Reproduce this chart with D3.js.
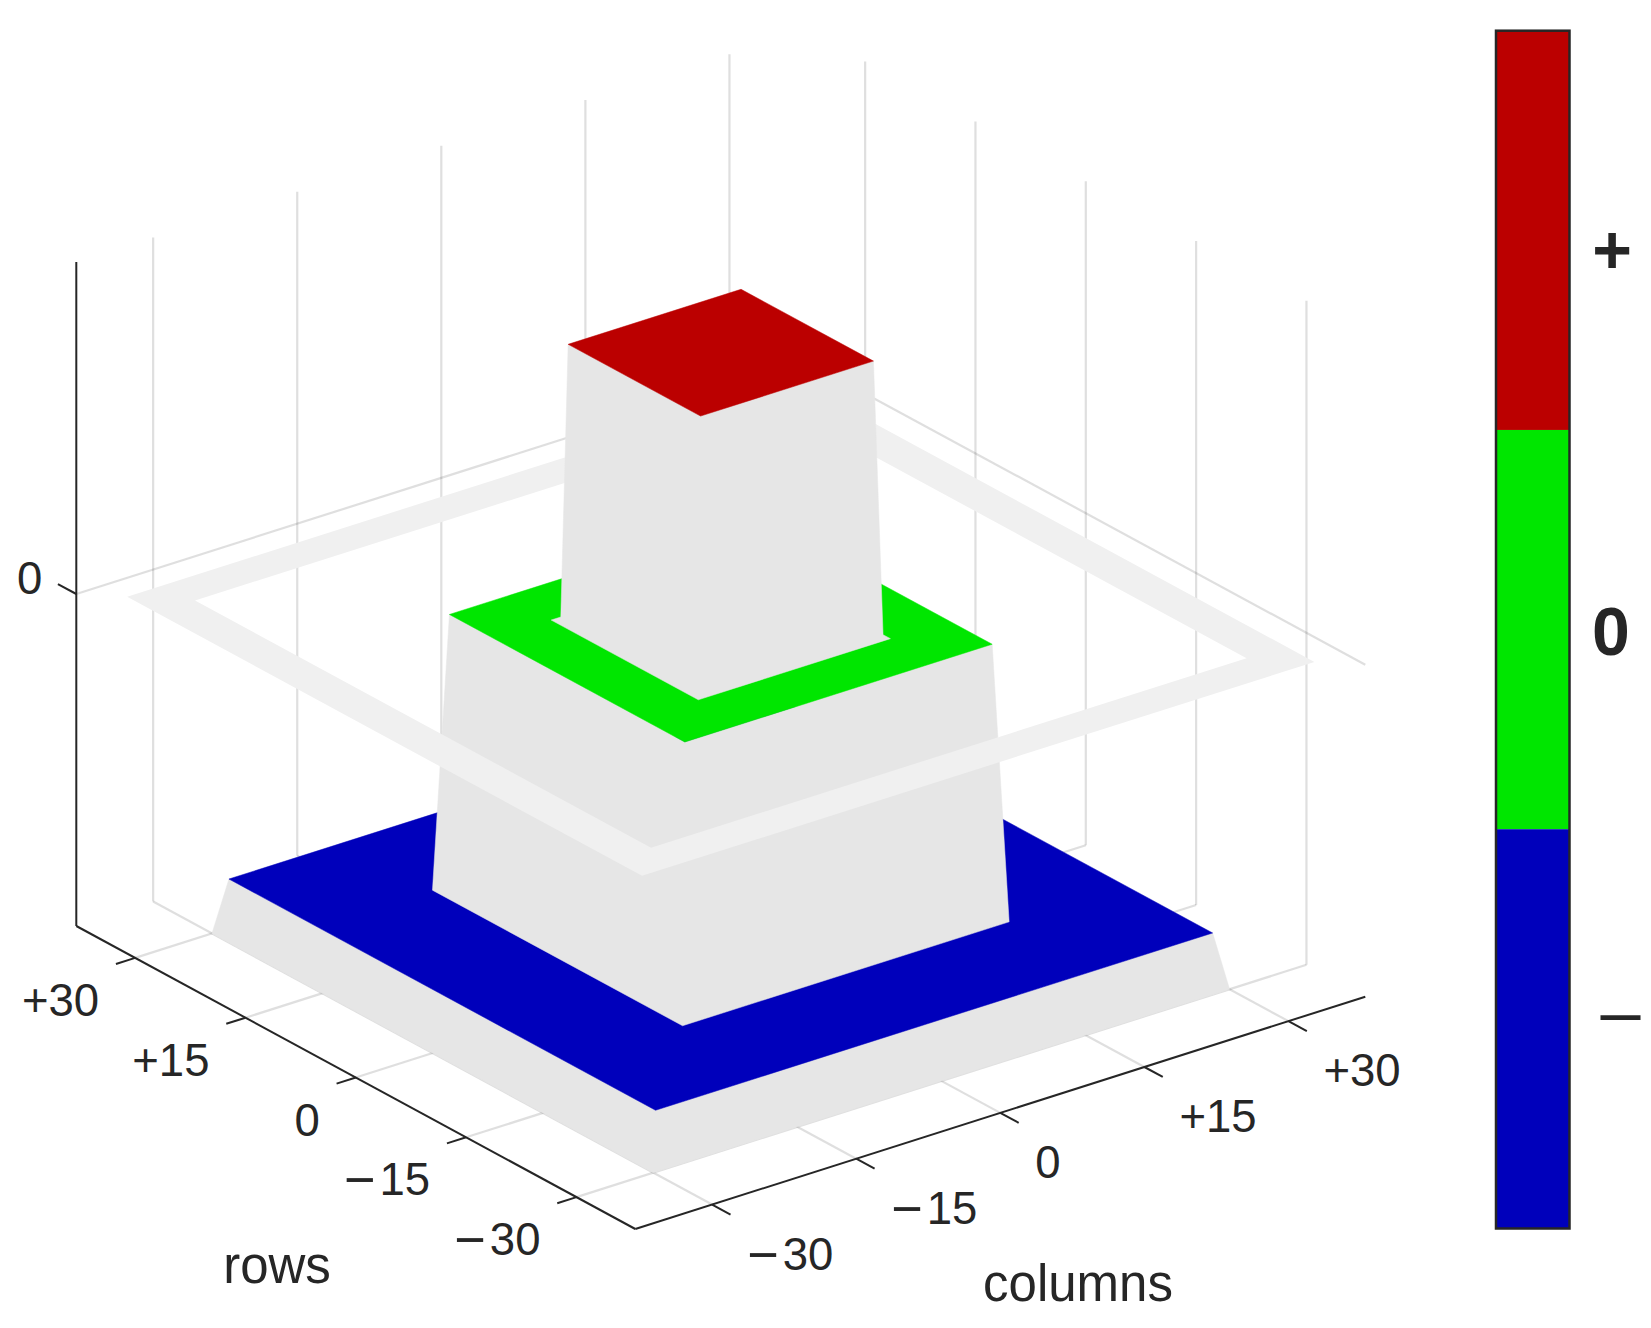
<!DOCTYPE html>
<html><head><meta charset="utf-8">
<script src="https://cdn.jsdelivr.net/npm/d3@7/dist/d3.min.js"></script>
<style>html,body{margin:0;padding:0;background:#fff}svg{display:block}text{font-family:"Liberation Sans",Arial,sans-serif;fill:#262626}</style>
</head><body><svg id="c" width="1651" height="1328"></svg>
<script>
// ---- data ----
const rowTicks = [30, 15, 0, -15, -30];
const colTicks = [-30, -15, 0, 15, 30];
const rowTickLabels = ["+30", "+15", "0", "−15", "−30"];
const colTickLabels = ["−30", "−15", "0", "+15", "+30"];
const zTicks = [0];
const zTickLabels = ["0"];
const axisLimit = 38;
const zLimit = 1.2;
// plateaus of the stepped surface, lowest first
const plateauLevel = [-1, 0, 1];
const plateauHalfWidth = [29, 16, 9];
const plateauFootHalfWidth = [30, 17, 10];
const plateauFootLevel = [-1.2, -1, 0];
const plateauCornerCut = [false, false, true];
const plateauColor = ["#0000bb", "#00e600", "#bb0000"];
// reference ring at level zero
const ringLevel = 0;
const ringHalfWidths = [31, 35];
// colour bar
const barLevels = [1, 0, -1];
const barColors = ["#bb0000", "#00e600", "#0000bb"];
const barLabels = ["+", "0", "–"];

// ---- oblique projection built from linear scales ----
const cx = 720.8, cy = 961.35;
const colX = d3.scaleLinear([-axisLimit, axisLimit], [cx - 365, cx + 365]);
const rowX = d3.scaleLinear([-axisLimit, axisLimit], [279.5, -279.5]);
const colY = d3.scaleLinear([-axisLimit, axisLimit], [116.15, -116.15]);
const rowY = d3.scaleLinear([-axisLimit, axisLimit], [151.5, -151.5]);
const zY = d3.scaleLinear([-zLimit, zLimit], [cy, cy - 664]);
const P = (r, c, z) => [colX(c) + rowX(r), zY(z) + colY(c) + rowY(r)];
const line = d3.line();
const svg = d3.select("#c");
const L = axisLimit, zMin = -zLimit, zMax = zLimit;

function seg(g, a, b) { g.append("path").attr("d", line([a, b])); }
function poly(g, pts, fill) {
  g.append("path").attr("d", line(pts) + "Z").attr("fill", fill).attr("stroke", fill).attr("stroke-width", 0.5);
}
// a negative label has a wider minus sign
function tickText(g, s) {
  if (s[0] === "−") {
    g.append("tspan").attr("font-size", 54).attr("dy", 3).text("−");
    g.append("tspan").attr("dx", 4).attr("dy", -3).text(s.slice(1));
  } else g.text(s);
}

// grid
const grid = svg.append("g").attr("fill", "none").attr("stroke", "#262626").attr("stroke-opacity", 0.15).attr("stroke-width", 2.2);
rowTicks.forEach(r => {
  seg(grid, P(r, -L, zMin), P(r, L, zMin));
  seg(grid, P(r, L, zMin), P(r, L, zMax));
});
colTicks.forEach(c => {
  seg(grid, P(-L, c, zMin), P(L, c, zMin));
  seg(grid, P(L, c, zMin), P(L, c, zMax));
});
zTicks.forEach(z => {
  seg(grid, P(L, -L, z), P(L, L, z));
  seg(grid, P(L, L, z), P(-L, L, z));
});

// axes
const axes = svg.append("g").attr("fill", "none").attr("stroke", "#262626").attr("stroke-width", 2);
seg(axes, P(L, -L, zMin), P(L, -L, zMax));
seg(axes, P(L, -L, zMin), P(-L, -L, zMin));
seg(axes, P(-L, -L, zMin), P(-L, L, zMin));
rowTicks.forEach(r => seg(axes, P(r, -L, zMin), P(r, -L - 2, zMin)));
colTicks.forEach(c => seg(axes, P(-L, c, zMin), P(-L - 2.5, c, zMin)));
zTicks.forEach(z => seg(axes, P(L, -L, z), P(L + 2.5, -L, z)));

// tick labels
const tickFont = 45.5;
const labels = svg.append("g").attr("font-size", tickFont);
rowTicks.forEach((r, i) => {
  const p = P(r, -L, zMin);
  tickText(labels.append("text").attr("x", p[0] - 36).attr("y", p[1] + 58).attr("text-anchor", "end"), rowTickLabels[i]);
});
colTicks.forEach((c, i) => {
  const p = P(-L, c, zMin);
  tickText(labels.append("text").attr("x", p[0] + 35).attr("y", p[1] + 65).attr("text-anchor", "start"), colTickLabels[i]);
});
zTicks.forEach((z, i) => {
  const p = P(L, -L, z);
  labels.append("text").attr("x", p[0] - 34).attr("y", p[1] + 0).attr("text-anchor", "end").text(zTickLabels[i]);
});
labels.append("text").attr("x", 277).attr("y", 1283).attr("font-size", 51).attr("text-anchor", "middle").text("rows");
labels.append("text").attr("x", 1078).attr("y", 1301).attr("font-size", 51).attr("text-anchor", "middle").text("columns");

// stepped surface
const surf = svg.append("g");
const ramp = "#e6e6e6";
function drawPlateau(i) {
  const a = plateauHalfWidth[i], b = plateauFootHalfWidth[i], t = plateauLevel[i], f = plateauFootLevel[i];
  const outline = plateauCornerCut[i]
    ? [P(a, -a, t), P(b, -a, f), P(b, -b, f), P(-b, -b, f), P(-b, b, f), P(-a, b, f), P(-a, a, t), P(-a, -a, t)]
    : [P(a, -a, t), P(b, -b, f), P(-b, -b, f), P(-b, b, f), P(-a, a, t), P(-a, -a, t)];
  poly(surf, outline, ramp);
  poly(surf, [P(a, -a, t), P(-a, -a, t), P(-a, a, t), P(a, a, t)], plateauColor[i]);
}
drawPlateau(0);
drawPlateau(1);
// ring
const ringPath = h => line([P(h, -h, ringLevel), P(-h, -h, ringLevel), P(-h, h, ringLevel), P(h, h, ringLevel)]) + "Z";
surf.append("path").attr("d", ringPath(ringHalfWidths[1]) + ringPath(ringHalfWidths[0]))
  .attr("fill", "#f0f0f0").attr("fill-rule", "evenodd");
drawPlateau(2);

// colour bar
const barY = d3.scaleBand().domain(barLevels).range([30.7, 1228.5]);
const barX0 = 1496, barW = 73.5;
const bar = svg.append("g");
barLevels.forEach((v, i) => {
  bar.append("rect").attr("x", barX0).attr("y", barY(v)).attr("width", barW).attr("height", barY.bandwidth()).attr("fill", barColors[i]);
});
const barText = (i, x, dy, size, weight) => bar.append("text")
  .attr("x", x).attr("y", barY(barLevels[i]) + barY.bandwidth() / 2 + dy)
  .attr("text-anchor", "middle").attr("font-size", size).attr("font-weight", weight).text(barLabels[i]);
barText(0, 1612, 43, 68, "bold");
barText(1, 1611, 25, 68, "bold");
barText(2, 1620.5, 7, 72, "normal");
bar.append("rect").attr("x", barX0).attr("y", 30.7).attr("width", barW).attr("height", 1197.8)
  .attr("fill", "none").attr("stroke", "#262626").attr("stroke-width", 2.5);
</script></body></html>
